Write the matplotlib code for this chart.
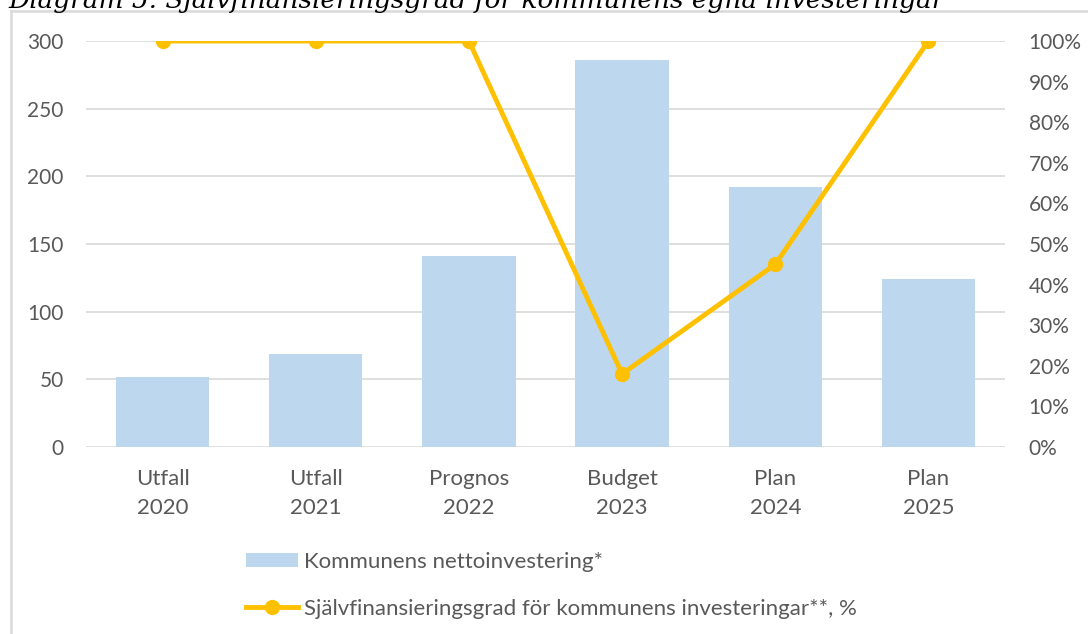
import matplotlib
matplotlib.use("Agg")
import matplotlib.pyplot as plt
from matplotlib.lines import Line2D
from matplotlib.ticker import PercentFormatter

# data
categories = ["Utfall\n2020", "Utfall\n2021", "Prognos\n2022", "Budget\n2023", "Plan\n2024", "Plan\n2025"]
netto = [52, 69, 141, 286, 192, 124]
sjalvfin = [1.00, 1.00, 1.00, 0.18, 0.45, 1.00]

title = "Diagram 5. Självfinansieringsgrad för kommunens egna investeringar"
label_bar = "Kommunens nettoinvestering*"
label_line = "Självfinansieringsgrad för kommunens investeringar**, %"

bar_color = "#BDD7EE"
line_color = "#FFC000"
grid_color = "#D9D9D9"
text_color = "#595959"

plt.rcParams["font.family"] = ["Lato", "DejaVu Sans"]

fig = plt.figure(figsize=(10.88, 6.34), dpi=100)
ax = fig.add_axes([86 / 1088, 1 - 447 / 634, (1005 - 86) / 1088, (447 - 41) / 634])

x = range(len(categories))
bars = ax.bar(x, netto, width=0.61, color=bar_color, zorder=2, label=label_bar)
ax.set_xlim(-0.5, len(categories) - 0.5)
ax.set_ylim(0, 300)
ax.set_yticks(range(0, 301, 50))
ax.set_xticks(list(x))
ax.set_xticklabels(categories, linespacing=1.55)
ax.yaxis.grid(True, color=grid_color, linewidth=1.2, zorder=0)
ax.set_axisbelow(True)
for s in ax.spines.values():
    s.set_visible(False)
ax.tick_params(axis="y", length=0, pad=16, labelsize=15, labelcolor=text_color)
ax.tick_params(axis="x", length=0, pad=16, labelsize=16, labelcolor=text_color)

ax2 = ax.twinx()
line, = ax2.plot(x, sjalvfin, color=line_color, linewidth=3.5, marker="o",
                 markersize=10, label=label_line, zorder=3)
ax2.set_ylim(0, 1)
ax2.set_yticks([i / 10 for i in range(11)])
ax2.yaxis.set_major_formatter(PercentFormatter(1.0, decimals=0))
for s in ax2.spines.values():
    s.set_visible(False)
ax2.tick_params(axis="y", length=0, pad=17, labelsize=15, labelcolor=text_color)

# legend under the chart
fig.legend([bars, line], [label_bar, label_line], loc="upper left",
           bbox_to_anchor=(246 / 1088, 1 - 552 / 634), frameon=False,
           fontsize=16, labelcolor=text_color, handlelength=2.35,
           handleheight=0.62, handletextpad=0.25, labelspacing=1.2,
           borderpad=0, borderaxespad=0)

# chart border (only top and left visible in the crop)
fig.add_artist(Line2D([11 / 1088, 11 / 1088], [0, 1 - 11 / 634], color=grid_color, linewidth=1.8))
fig.add_artist(Line2D([11 / 1088, 1], [1 - 11 / 634, 1 - 11 / 634], color=grid_color, linewidth=1.8))

# title, cut off at the top like in the source
fig.text(8 / 1088, 1 - 8 / 634, title, fontsize=19, style="italic",
         family="DejaVu Serif", va="baseline", ha="left", color="black")

fig.savefig("out.png", dpi=100)
